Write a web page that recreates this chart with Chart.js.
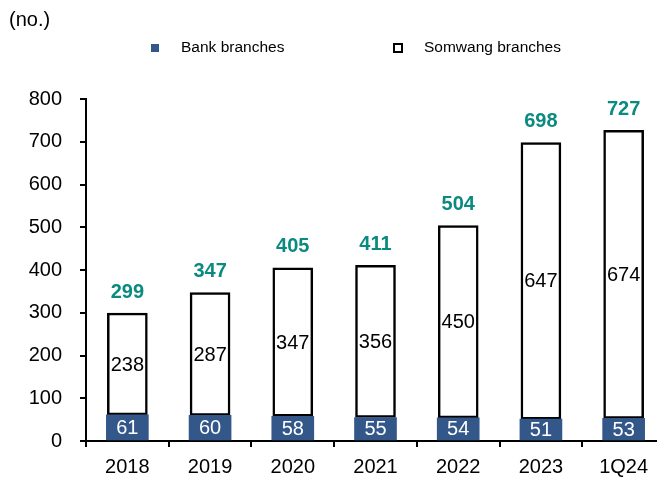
<!DOCTYPE html>
<html><head><meta charset="utf-8">
<script src="https://cdn.jsdelivr.net/npm/chart.js@4/dist/chart.umd.min.js"></script>
<style>
html,body{margin:0;padding:0;background:#fff;overflow:hidden;width:657px;height:477px;}
#wrap{position:absolute;left:0;top:0;width:668px;height:477px;}
.t{position:absolute;font-family:"Liberation Sans",Arial,sans-serif;color:#000;white-space:nowrap;line-height:1;}
.sw{position:absolute;box-sizing:border-box;}
</style></head><body>
<div id="wrap"><canvas id="c" width="668" height="477"></canvas></div>
<div class="t" style="left:9px;top:9px;font-size:20px;">(no.)</div>
<div class="sw" style="left:151px;top:44px;width:8px;height:8px;background:#335789;"></div>
<div class="t" style="left:181px;top:39px;font-size:15.5px;">Bank branches</div>
<div class="sw" style="left:393px;top:43px;width:10px;height:10px;background:#fff;border:2.5px solid #000;"></div>
<div class="t" style="left:424px;top:39px;font-size:15.5px;">Somwang branches</div>
<script>
const categories = ["2018","2019","2020","2021","2022","2023","1Q24"];
const bankBranches = [61,60,58,55,54,51,53];
const somwangBranches = [238,287,347,356,450,647,674];
const totals = [299,347,405,411,504,698,727];

const FONT = '"Liberation Sans", Arial, sans-serif';
const labelPlugin = {
  id:'labels',
  afterDatasetsDraw(chart){
    const ctx = chart.ctx;
    ctx.save();
    ctx.textAlign='center';
    ctx.textBaseline='middle';
    const m0 = chart.getDatasetMeta(0), m1 = chart.getDatasetMeta(1);
    m0.data.forEach((b,i)=>{
      ctx.font = '20px '+FONT;
      ctx.fillStyle='#fff';
      ctx.fillText(String(bankBranches[i]), b.x, (b.y+b.base)/2+1);
    });
    m1.data.forEach((b,i)=>{
      ctx.font = '20px '+FONT;
      ctx.fillStyle='#000';
      ctx.fillText(String(somwangBranches[i]), b.x, (b.y+b.base)/2+1);
      ctx.font = 'bold 20px '+FONT;
      ctx.fillStyle='#0B8A80';
      ctx.fillText(String(totals[i]), b.x, b.y-21);
    });
    ctx.restore();
  }
};

new Chart(document.getElementById('c'),{
  type:'bar',
  data:{labels:categories,datasets:[
    {label:'Bank branches',data:bankBranches,backgroundColor:'#335789',borderWidth:0,barThickness:42},
    {label:'Somwang branches',data:somwangBranches,backgroundColor:'#fff',borderColor:'#000',borderWidth:2.5,borderSkipped:false,barThickness:40}
  ]},
  options:{
    responsive:false,animation:false,
    layout:{padding:{top:99,left:0,right:3,bottom:0}},
    plugins:{legend:{display:false},tooltip:{enabled:false}},
    scales:{
      x:{stacked:true,
        grid:{display:true,drawOnChartArea:false,drawTicks:true,tickLength:6,color:'#000',lineWidth:2,offset:true},
        border:{display:true,color:'#000',width:2},
        ticks:{color:'#000',font:{family:FONT,size:20},padding:8,maxRotation:0},
        afterFit(s){s.height=36;}
      },
      y:{stacked:true,min:0,max:800,
        grid:{display:true,drawOnChartArea:false,drawTicks:true,tickLength:6,color:'#000',lineWidth:2},
        border:{display:true,color:'#000',width:2},
        ticks:{stepSize:100,color:'#000',font:{family:FONT,size:20},padding:18},
        afterFit(s){s.width=86;}
      }
    }
  },
  plugins:[labelPlugin]
});
</script>
</body></html>
